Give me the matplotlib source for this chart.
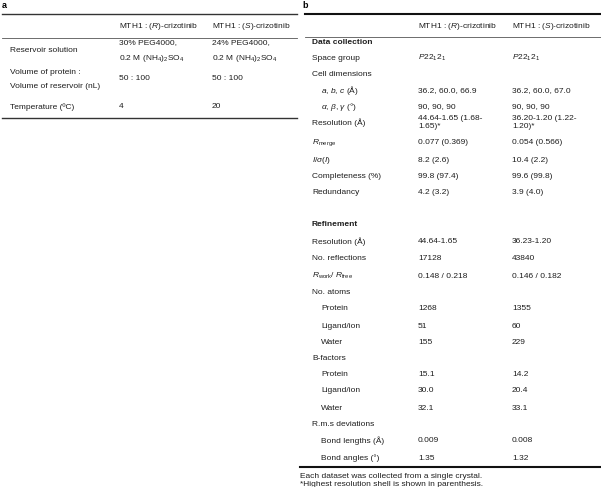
import matplotlib
matplotlib.use("Agg")
import matplotlib.pyplot as plt
from matplotlib.lines import Line2D

plt.rcParams['font.family'] = ['Liberation Sans', 'DejaVu Sans']
plt.rcParams['mathtext.fontset'] = 'custom'
plt.rcParams['mathtext.rm'] = 'Liberation Sans'
plt.rcParams['mathtext.it'] = 'Liberation Sans:italic'
plt.rcParams['mathtext.bf'] = 'Liberation Sans:bold'

# ---- data: panel a (crystallisation conditions) ----
a_header = ['MTH1 : ($R$)-crizotinib', 'MTH1 : ($S$)-crizotinib']
a_labels = [['Reservoir solution'],
            ['Volume of protein :', 'Volume of reservoir (nL)'],
            ['Temperature (ºC)']]
a_R = [['30% PEG4000,', '0.2 M (NH$_4$)$_2$SO$_4$'], ['50 : 100'], ['4']]
a_S = [['24% PEG4000,', '0.2 M (NH$_4$)$_2$SO$_4$'], ['50 : 100'], ['20']]

# ---- data: panel b (data collection / refinement statistics) ----
b_header = ['MTH1 : ($R$)-crizotinib', 'MTH1 : ($S$)-crizotinib']
b_labels = ['Data collection', 'Space group', 'Cell dimensions',
            '$a$, $b$, $c$ (Å)', r'$\alpha$, $\beta$, $\gamma$ (°)',
            'Resolution (Å)', r'$R_{\mathrm{merge}}$', r'$I/\sigma(I)$',
            'Completeness (%)', 'Redundancy', '',
            'Refinement', 'Resolution (Å)', 'No. reflections',
            r'$R_{\mathrm{work}}$/ $R_{\mathrm{free}}$', 'No. atoms',
            'Protein', 'Ligand/ion', 'Water', 'B-factors',
            'Protein', 'Ligand/ion', 'Water', 'R.m.s deviations',
            'Bond lengths (Å)', 'Bond angles (°)']
b_R = ['', '$P$22$_1$2$_1$', '', '36.2, 60.0, 66.9', '90, 90, 90',
       '44.64-1.65 (1.68-\n1.65)*', '0.077 (0.369)', '8.2 (2.6)',
       '99.8 (97.4)', '4.2 (3.2)', '',
       '', '44.64-1.65', '17128', '0.148 / 0.218', '',
       '1268', '51', '155', '',
       '15.1', '30.0', '32.1', '',
       '0.009', '1.35']
b_S = ['', '$P$22$_1$2$_1$', '', '36.2, 60.0, 67.0', '90, 90, 90',
       '36.20-1.20 (1.22-\n1.20)*', '0.054 (0.566)', '10.4 (2.2)',
       '99.6 (99.8)', '3.9 (4.0)', '',
       '', '36.23-1.20', '43840', '0.146 / 0.182', '',
       '1355', '60', '229', '',
       '14.2', '20.4', '33.1', '',
       '0.008', '1.32']
b_notes = ['Each dataset was collected from a single crystal.',
           '*Highest resolution shell is shown in parenthesis.']

# ---- layout (pixels, y from top) ----
W, H = 601, 487
b_bold = {0, 11}
b_indent = {3, 4, 16, 17, 18, 20, 21, 22, 24, 25}
b_y = [42, 58, 74, 91, 107, 123, 143, 160, 176, 193, 209,
       225, 242, 259, 276, 293, 309, 326, 342, 359, 375, 391, 408, 424, 441, 458]
a_y = [[51], [72, 87], [107]]
a_vy = [[43, 59], [79], [107]]

FS = 6
TC = '#1e1e1e'

fig = plt.figure(figsize=(W / 100, H / 100), dpi=100)


def put(x, y, s, **kw):
    kw.setdefault('fontsize', FS)
    kw.setdefault('color', TC)
    fig.text(x / W, 1 - y / H, s, va='center', ha='left', **kw)


def hline(x0, x1, y, lw, color):
    fig.add_artist(Line2D([x0 / W, x1 / W], [1 - y / H, 1 - y / H],
                          transform=fig.transFigure, lw=lw, color=color))


# panel a
put(2, 5, 'a', fontweight='bold', fontsize=6.5, color='black')
hline(2, 297, 14, 1.0, '#333333')
hline(2, 297, 38, 0.6, '#555555')
hline(2, 297, 118, 1.0, '#333333')
put(119, 27, a_header[0])
put(212, 27, a_header[1])
for labs, ly, rv, sv, vy in zip(a_labels, a_y, a_R, a_S, a_vy):
    for lab, y in zip(labs, ly):
        put(10, y, lab)
    for v, y in zip(rv, vy):
        put(119, y, v)
    for v, y in zip(sv, vy):
        put(212, y, v)

# panel b
put(302, 5, 'b', fontweight='bold', fontsize=6.5, color='black')
hline(305, 601, 14, 1.5, '#111111')
hline(305, 601, 37, 0.6, '#555555')
hline(300, 601, 467, 1.5, '#111111')
put(418, 27, b_header[0])
put(512, 27, b_header[1])
for i, (lab, rv, sv, y) in enumerate(zip(b_labels, b_R, b_S, b_y)):
    x = 321 if i in b_indent else 312
    put(x, y, lab, fontweight='bold' if i in b_bold else 'normal')
    for xc, v in ((418, rv), (512, sv)):
        parts = v.split('\n')
        if len(parts) == 2:
            put(xc, y - 4.5, parts[0])
            put(xc, y + 3.5, parts[1])
        else:
            put(xc, y, v)
put(300, 476, b_notes[0])
put(300, 484, b_notes[1])

fig.savefig('out.png', dpi=100)
